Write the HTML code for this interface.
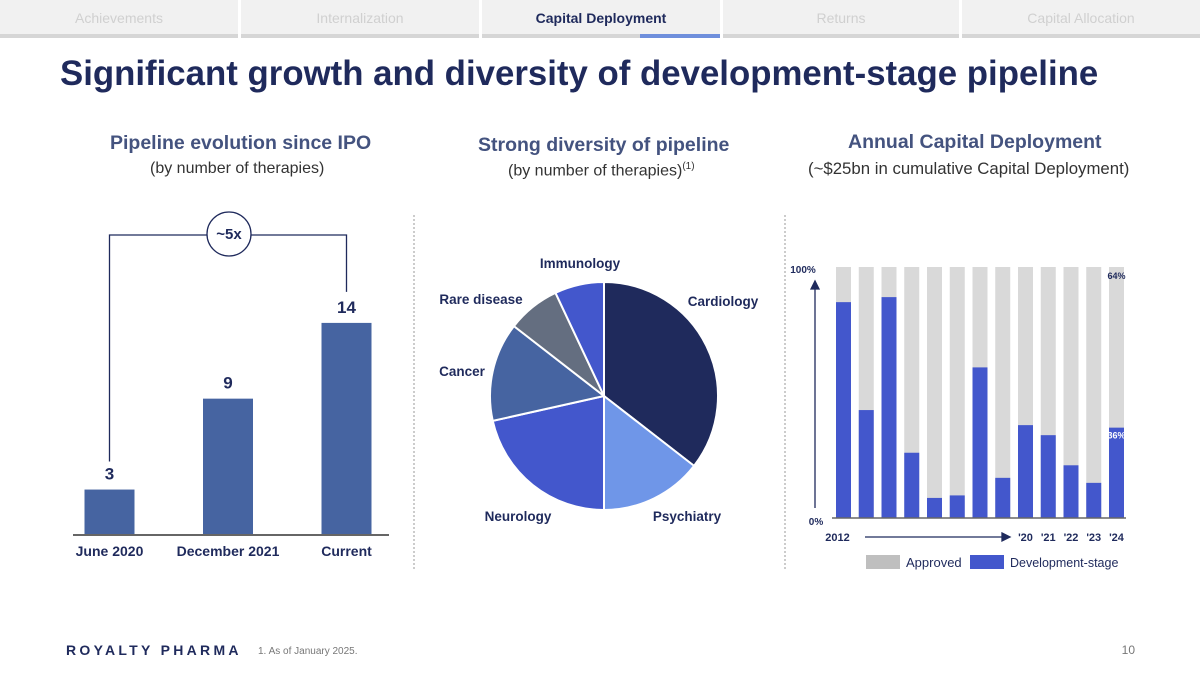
<!DOCTYPE html>
<html><head><meta charset="utf-8"><style>
body{margin:0;width:1200px;height:675px;background:#fff;font-family:"Liberation Sans",sans-serif;overflow:hidden;position:relative}
.tab{position:absolute;top:0;height:38px;background:#f1f1f1;color:#d0d0d0;font-size:14px;text-align:center;line-height:36px}
.tab .bar{position:absolute;left:0;right:0;bottom:0;height:4px;background:#d6d6d6}
.t{position:absolute;color:#1f2a5c;font-weight:bold;white-space:nowrap}
</style></head><body>
<div class="tab" style="left:0;width:238px">Achievements<div class="bar"></div></div>
<div class="tab" style="left:241px;width:238px">Internalization<div class="bar"></div></div>
<div class="tab" style="left:482px;width:238px;color:#1f2a5c;font-weight:bold">Capital Deployment<div class="bar"></div><div style="position:absolute;right:0;width:80px;bottom:0;height:4px;background:#6f8fdc"></div></div>
<div class="tab" style="left:723px;width:236px">Returns<div class="bar"></div></div>
<div class="tab" style="left:962px;width:238px">Capital Allocation<div class="bar"></div></div>

<div class="t" style="left:60px;top:54px;font-size:34.8px">Significant growth and diversity of development-stage pipeline</div>
<div class="t" style="left:110px;top:132px;font-size:19.5px;color:#44537f">Pipeline evolution since IPO</div>
<div class="t" style="left:150px;top:160px;font-size:16px;font-weight:normal;color:#333">(by number of therapies)</div>
<div class="t" style="left:478px;top:134px;font-size:19.5px;color:#44537f">Strong diversity of pipeline</div>
<div class="t" style="left:508px;top:161px;font-size:16px;font-weight:normal;color:#333">(by number of therapies)<sup style="font-size:10px">(1)</sup></div>
<div class="t" style="left:848px;top:131px;font-size:19.5px;color:#44537f">Annual Capital Deployment</div>
<div class="t" style="left:808px;top:159px;font-size:16.8px;font-weight:normal;color:#333">(~$25bn in cumulative Capital Deployment)</div>

<svg width="1200" height="675" style="position:absolute;left:0;top:0" id="svg" font-family="Liberation Sans, sans-serif">
<line x1="414" y1="215" x2="414" y2="570" stroke="#999" stroke-dasharray="2,2"/>
<line x1="785" y1="215" x2="785" y2="570" stroke="#999" stroke-dasharray="2,2"/>
<g id="left"></g><g id="pie"></g><g id="right"></g>
<text x="66" y="655" font-size="14" font-weight="bold" fill="#1f2a5c" letter-spacing="3.3">ROYALTY PHARMA</text>
<text x="258" y="654" font-size="10" fill="#777">1.   As of January 2025.</text>
<text x="1135" y="654" font-size="12" fill="#777" text-anchor="end">10</text>
</svg>
<script>
const leftCats=["June 2020","December 2021","Current"];
const leftVals=[3,9,14];
const pieCats=["Cardiology","Psychiatry","Neurology","Cancer","Rare disease","Immunology"];
const pieVals=[35.5,14.5,21.5,14,7.5,7];
const years=["2012","","","","","","","","'20","'21","'22","'23","'24"];
const devVals=[0.86,0.43,0.88,0.26,0.08,0.09,0.60,0.16,0.37,0.33,0.21,0.14,0.36];
const NS="http://www.w3.org/2000/svg";
function mk(p,tag,a,txt){const e=document.createElementNS(NS,tag);for(const k in a)e.setAttribute(k,a[k]);if(txt!=null)e.textContent=txt;p.appendChild(e);return e;}
const L=document.getElementById('left');
const base=535,ys=v=>base-v*15.15,xc=i=>109.5+i*118.5;
leftVals.forEach((v,i)=>{
 const r=mk(L,'rect',{x:xc(i)-25,y:ys(v),width:50,height:base-ys(v),fill:'#4664a1'});
 
 
 const t=mk(L,'text',{x:xc(i),y:ys(v)-10,'font-size':17,'font-weight':'bold',fill:'#1f2a5c','text-anchor':'middle'},String(v));
 
 
 const c=mk(L,'text',{x:xc(i),y:556,'font-size':14,'font-weight':'bold',fill:'#1f2a5c','text-anchor':'middle'},leftCats[i]);
 
 
});
const bl=mk(L,'line',{x1:73,x2:389,y1:base,y2:base,stroke:'#666','stroke-width':2});


const br=mk(L,'path',{d:`M${xc(0)} ${ys(leftVals[0])-28} V235 H207 M251 235 H${xc(2)} V${ys(leftVals[2])-31}`,stroke:'#1f2a5c',fill:'none','stroke-width':1.3});


const cc=mk(L,'circle',{cx:229,cy:234,r:22,fill:'#fff',stroke:'#1f2a5c','stroke-width':1.3});


const ct=mk(L,'text',{x:229,y:239,'font-size':15,'font-weight':'bold',fill:'#1f2a5c','text-anchor':'middle'},'~5x');


const P=document.getElementById('pie');
const cx=604,cy=396,R=114,cols=['#1f2a5c','#6f96e8','#4357cc','#4664a1','#646e80','#4357cc'];
const lab=[[723,306],[687,521],[518,521],[462,376],[481,304],[580,268]];
const tot=pieVals.reduce((a,b)=>a+b,0);let a0=0;
pieVals.forEach((v,i)=>{
 const a1=a0+v/tot*2*Math.PI;
 const p=(a)=>[cx+R*Math.sin(a),cy-R*Math.cos(a)];
 const [x0,y0]=p(a0),[x1,y1]=p(a1);
 const s=mk(P,'path',{d:`M${cx} ${cy} L${x0} ${y0} A${R} ${R} 0 ${a1-a0>Math.PI?1:0} 1 ${x1} ${y1}Z`,fill:cols[i],stroke:'#fff','stroke-width':2});
 
 
 const t=mk(P,'text',{x:lab[i][0],y:lab[i][1],'font-size':13.5,'font-weight':'bold',fill:'#1f2a5c','text-anchor':'middle'},pieCats[i]);
 
 
 a0=a1;
});
const G=document.getElementById('right');
const top0=267,bot=518,bx=i=>836+i*22.75,bw=15;
const yr=v=>bot-v*(bot-top0);
devVals.forEach((v,i)=>{
 const a=mk(G,'rect',{x:bx(i),y:top0,width:bw,height:bot-top0,fill:'#d9d9d9'});
 
 
 const d=mk(G,'rect',{x:bx(i),y:yr(v),width:bw,height:bot-yr(v),fill:'#4357cc'});
 
 
 if(years[i]){const t=mk(G,'text',{x:bx(i)+bw/2+(i==0?-6:0),y:541,'font-size':11,'font-weight':'bold',fill:'#1f2a5c','text-anchor':'middle'},years[i]);
 
 }
});
const last=devVals.length-1;
const p1=mk(G,'text',{x:bx(last)+bw/2,y:279,'font-size':9,'font-weight':'bold',fill:'#1f2a5c','text-anchor':'middle'},Math.round((1-devVals[last])*100)+'%');


const p2=mk(G,'text',{x:bx(last)+bw/2,y:yr(devVals[last])+11,'font-size':9,'font-weight':'bold',fill:'#fff','text-anchor':'middle'},Math.round(devVals[last]*100)+'%');


const ax=mk(G,'line',{x1:832,x2:1126,y1:bot,y2:bot,stroke:'#666','stroke-width':1.5});


const va=mk(G,'path',{d:'M815 508 V286 M811 289 L815 281 L819 289Z',stroke:'#1f2a5c',fill:'#1f2a5c','stroke-width':1.3});


const ha=mk(G,'path',{d:'M865 537 H1005 M1002 533 L1010 537 L1002 541Z',stroke:'#1f2a5c',fill:'#1f2a5c','stroke-width':1.3});


const y1t=mk(G,'text',{x:803,y:273,'font-size':10,'font-weight':'bold',fill:'#1f2a5c','text-anchor':'middle'},'100%');


const y0t=mk(G,'text',{x:816,y:525,'font-size':10,'font-weight':'bold',fill:'#1f2a5c','text-anchor':'middle'},'0%');


const l1=mk(G,'rect',{x:866,y:555,width:34,height:14,fill:'#bfbfbf'});


const l1t=mk(G,'text',{x:906,y:567,'font-size':13,fill:'#1f2a5c'},'Approved');


const l2=mk(G,'rect',{x:970,y:555,width:34,height:14,fill:'#4357cc'});


const l2t=mk(G,'text',{x:1010,y:567,'font-size':12.5,fill:'#1f2a5c'},'Development-stage');


</script>
</body></html>
